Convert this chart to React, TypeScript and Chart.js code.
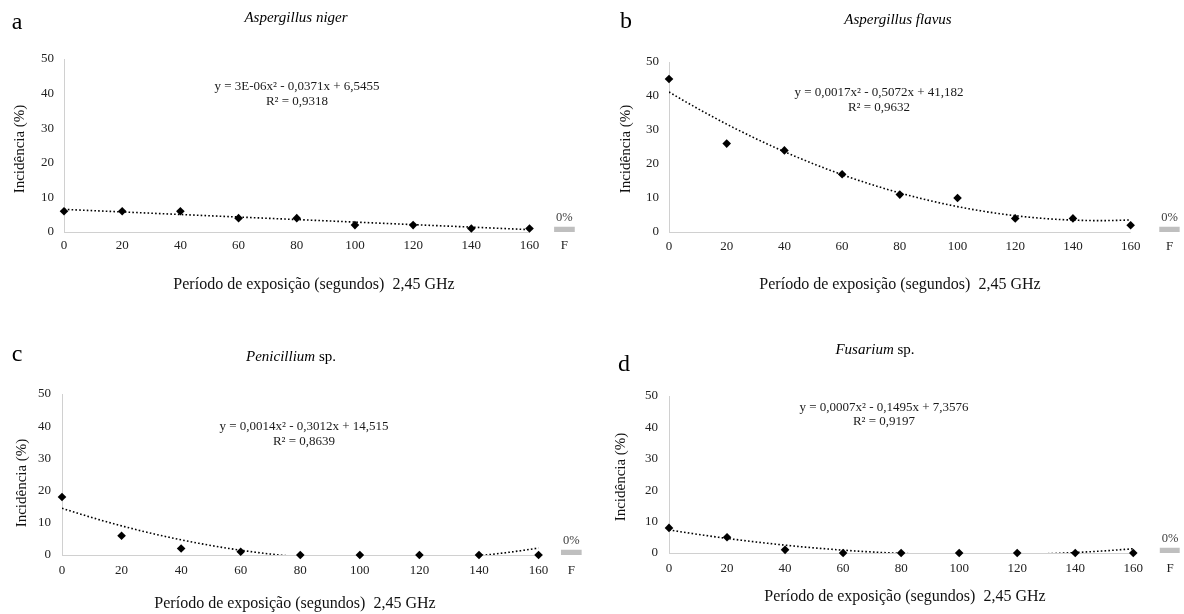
import React, { useEffect, useRef } from 'react';
import { Chart, registerables } from 'chart.js';

Chart.register(...registerables);

// ---------- data ----------
const exposureSeconds = [0, 20, 40, 60, 80, 100, 120, 140, 160];
const xTickValues = [0, 20, 40, 60, 80, 100, 120, 140, 160];
const yTickValues = [0, 10, 20, 30, 40, 50];
const controlLabel = 'F';

const nigerIncidence = [6, 6, 6, 4, 4, 2, 2, 1, 1];
const flavusIncidence = [45, 26, 24, 17, 11, 10, 4, 4, 2];
const penicilliumIncidence = [18, 6, 2, 1, 0, 0, 0, 0, 0];
const fusariumIncidence = [8, 5, 1, 0, 0, 0, 0, 0, 0];

// control (F) incidence for panels a, b, c, d
const controlIncidence = [0, 0, 0, 0];

// polynomial trendline coefficients printed on the chart [x², x, constant]
const nigerTrend = [0.000003, -0.0371, 6.5455];
const flavusTrend = [0.0017, -0.5072, 41.182];
const penicilliumTrend = [0.0014, -0.3012, 14.515];
const fusariumTrend = [0.0007, -0.1495, 7.3576];

const nigerEquation = ['y = 3E-06x² - 0,0371x + 6,5455', 'R² = 0,9318'];
const flavusEquation = ['y = 0,0017x² - 0,5072x + 41,182', 'R² = 0,9632'];
const penicilliumEquation = ['y = 0,0014x² - 0,3012x + 14,515', 'R² = 0,8639'];
const fusariumEquation = ['y = 0,0007x² - 0,1495x + 7,3576', 'R² = 0,9197'];

const panelLetters = ['a', 'b', 'c', 'd'];
const panelTitles = [
  [{ t: 'Aspergillus niger', i: true }],
  [{ t: 'Aspergillus flavus', i: true }],
  [{ t: 'Penicillium', i: true }, { t: ' sp.', i: false }],
  [{ t: 'Fusarium', i: true }, { t: ' sp.', i: false }],
];
const yAxisTitle = 'Incidência (%)';
const xAxisTitle = 'Período de exposição (segundos)  2,45 GHz';

// ---------- layout (positions / styles only) ----------
const W = 592;
const H = 307;
const FONT = '"Liberation Serif", "Times New Roman", serif';

const layouts = [
  { ox: 0, oy: 0, left: 64, top: 59, bottom: 232, xMax: 180, fPos: 172, xPad: 6, yPad: 10,
    letter: [17, 23], title: [296, 18], eq: [297, 87, 102], yTitle: [20, 149], xTitle: [314, 285] },
  { ox: 592, oy: 0, left: 77, top: 62, bottom: 232, xMax: 177, fPos: 173.5, xPad: 7, yPad: 10,
    letter: [34, 22], title: [306, 20], eq: [287, 93, 108], yTitle: [34, 149], xTitle: [308, 285] },
  { ox: 0, oy: 307, left: 62, top: 87, bottom: 248, xMax: 176.5, fPos: 171, xPad: 8, yPad: 11,
    letter: [17, 48], title: [291, 50], eq: [304, 120, 135], yTitle: [22, 176], xTitle: [295, 297] },
  { ox: 592, oy: 307, left: 77, top: 89, bottom: 246, xMax: 176, fPos: 172.7, xPad: 8, yPad: 11,
    letter: [32, 58], title: [283, 43], eq: [292, 101, 115], yTitle: [29, 170], xTitle: [313, 290] },
];

const panelData = [
  { values: nigerIncidence, trend: nigerTrend, eq: nigerEquation },
  { values: flavusIncidence, trend: flavusTrend, eq: flavusEquation },
  { values: penicilliumIncidence, trend: penicilliumTrend, eq: penicilliumEquation },
  { values: fusariumIncidence, trend: fusariumTrend, eq: fusariumEquation },
];

function trendPoints(c: number[]) {
  const pts: { x: number; y: number }[] = [];
  const last = exposureSeconds[exposureSeconds.length - 1];
  for (let x = exposureSeconds[0]; x <= last; x += 1) {
    pts.push({ x, y: c[0] * x * x + c[1] * x + c[2] });
  }
  return pts;
}

function makeTextPlugin(idx: number) {
  const L = layouts[idx];
  const D = panelData[idx];
  return {
    id: 'panelText' + idx,
    beforeDatasetsDraw(chart: any) {
      const { ctx } = chart;
      const xs = chart.scales.x;
      const ys = chart.scales.y;
      ctx.save();
      ctx.strokeStyle = '#d0d0d0';
      ctx.lineWidth = 1;
      const yy = Math.round(ys.getPixelForValue(0)) + 0.5;
      ctx.beginPath();
      ctx.moveTo(xs.getPixelForValue(exposureSeconds[0]), yy);
      ctx.lineTo(xs.getPixelForValue(exposureSeconds[exposureSeconds.length - 1]), yy);
      ctx.stroke();
      ctx.restore();
    },
    afterDraw(chart: any) {
      const { ctx } = chart;
      ctx.save();
      ctx.textAlign = 'center';
      ctx.textBaseline = 'middle';
      ctx.fillStyle = '#000';
      // panel letter
      ctx.font = `24px ${FONT}`;
      ctx.fillText(panelLetters[idx], L.letter[0], L.letter[1]);
      // title (mixed italic / regular)
      const parts = panelTitles[idx];
      const fontFor = (p: any) => `${p.i ? 'italic ' : ''}15px ${FONT}`;
      let total = 0;
      const widths = parts.map((p) => {
        ctx.font = fontFor(p);
        const w = ctx.measureText(p.t).width;
        total += w;
        return w;
      });
      let x = L.title[0] - total / 2;
      ctx.textAlign = 'left';
      parts.forEach((p, k) => {
        ctx.font = fontFor(p);
        ctx.fillText(p.t, x, L.title[1]);
        x += widths[k];
      });
      ctx.textAlign = 'center';
      // equation
      ctx.fillStyle = '#1a1a1a';
      ctx.font = `13px ${FONT}`;
      ctx.fillText(D.eq[0], L.eq[0], L.eq[1]);
      ctx.fillText(D.eq[1], L.eq[0], L.eq[2]);
      // axis titles
      ctx.fillStyle = '#111';
      ctx.font = `16px ${FONT}`;
      ctx.fillText(xAxisTitle, L.xTitle[0], L.xTitle[1]);
      ctx.save();
      ctx.translate(L.yTitle[0], L.yTitle[1]);
      ctx.rotate(-Math.PI / 2);
      ctx.font = `15px ${FONT}`;
      ctx.fillText(yAxisTitle, 0, 0);
      ctx.restore();
      // control bar label
      const meta = chart.getDatasetMeta(2);
      const bar = meta && meta.data[0];
      if (bar) {
        const top = Math.min(bar.y, bar.base);
        ctx.fillStyle = '#404040';
        ctx.font = `12.5px ${FONT}`;
        ctx.fillText(`${controlIncidence[idx]}%`, bar.x, top - 9);
      }
      ctx.restore();
    },
  };
}

function buildConfig(idx: number): any {
  const L = layouts[idx];
  const D = panelData[idx];
  const tickFont = { family: FONT, size: 13 };
  return {
    type: 'scatter',
    data: {
      datasets: [
        {
          type: 'scatter',
          data: exposureSeconds.map((s, k) => ({ x: s, y: D.values[k] })),
          pointStyle: 'rectRot',
          pointRadius: 4.3,
          pointHoverRadius: 4.3,
          backgroundColor: '#000',
          borderColor: '#000',
          borderWidth: 0,
          showLine: false,
          clip: false,
          order: 0,
        },
        {
          type: 'line',
          data: trendPoints(D.trend),
          borderColor: '#000',
          borderWidth: 1.6,
          borderDash: [1.6, 2.2],
          pointRadius: 0,
          fill: false,
          tension: 0,
          order: 1,
        },
        {
          type: 'bar',
          data: [{ x: L.fPos, y: controlIncidence[idx] }],
          backgroundColor: '#bfbfbf',
          borderWidth: 0,
          barThickness: 20,
          minBarLength: 5,
          order: 2,
        },
      ],
    },
    options: {
      responsive: false,
      animation: false,
      devicePixelRatio: 1,
      layout: {
        padding: { left: 0, top: L.top, right: 0, bottom: 0 },
      },
      plugins: {
        legend: { display: false },
        tooltip: { enabled: false },
        title: { display: false },
      },
      events: [],
      scales: {
        x: {
          type: 'linear',
          min: 0,
          max: L.xMax,
          offset: false,
          grid: { display: false, drawTicks: false, offset: false },
          border: { display: false },
          afterBuildTicks: (s: any) => {
            s.ticks = [...xTickValues, L.fPos].map((v) => ({ value: v }));
          },
          afterFit: (s: any) => {
            s.height = H - L.bottom;
          },
          ticks: {
            autoSkip: false,
            maxRotation: 0,
            minRotation: 0,
            padding: L.xPad,
            color: '#222',
            font: tickFont,
            callback: (v: number) => (Math.abs(v - L.fPos) < 1e-6 ? controlLabel : String(v)),
          },
        },
        y: {
          type: 'linear',
          min: yTickValues[0],
          max: yTickValues[yTickValues.length - 1],
          grid: { display: false, drawTicks: false },
          border: { display: true, color: '#d0d0d0', width: 1 },
          afterBuildTicks: (s: any) => {
            s.ticks = yTickValues.map((v) => ({ value: v }));
          },
          afterFit: (s: any) => {
            s.width = L.left;
          },
          ticks: {
            padding: L.yPad,
            color: '#222',
            font: tickFont,
          },
        },
      },
    },
    plugins: [makeTextPlugin(idx)],
  };
}

function Panel({ idx }: { idx: number }) {
  const ref = useRef<HTMLCanvasElement>(null);
  useEffect(() => {
    const chart = new Chart(ref.current as HTMLCanvasElement, buildConfig(idx));
    return () => chart.destroy();
  }, [idx]);
  const L = layouts[idx];
  return (
    <canvas
      ref={ref}
      width={W}
      height={H}
      style={{ position: 'absolute', left: L.ox, top: L.oy, width: W, height: H, display: 'block' }}
    />
  );
}

export default function App() {
  return (
    <div style={{ position: 'absolute', left: 0, top: 0, width: 1184, height: 614, background: '#fff', overflow: 'hidden' }}>
      {layouts.map((_, i) => (
        <Panel key={i} idx={i} />
      ))}
    </div>
  );
}
